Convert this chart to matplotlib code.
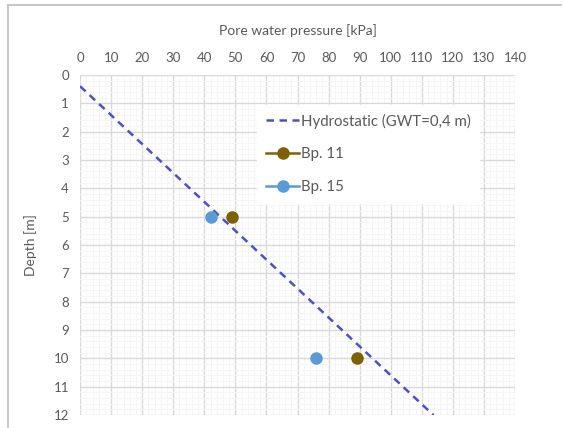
import matplotlib
matplotlib.use("Agg")
import matplotlib.pyplot as plt
from matplotlib.lines import Line2D
from matplotlib.ticker import MultipleLocator

# data
gwt = 0.4
gamma_w = 9.81
hydro_depth = [gwt, 12.0]
bp11_u = [49, 89]
bp11_z = [5, 10]
bp15_u = [42, 76]
bp15_z = [5, 10]

plt.rcParams['font.family'] = ['Lato', 'DejaVu Sans']
txt = '#595959'

fig = plt.figure(figsize=(5.64, 4.28), dpi=100)
ax = fig.add_axes([0.142, 0.030, 0.771, 0.795])

hydro_u = [(z - gwt) * gamma_w for z in hydro_depth]
ax.plot(hydro_u, hydro_depth, color='#4F4FC4', ls=(0, (3, 2.2)), lw=1.8, zorder=3)
ax.plot(bp11_u, bp11_z, ls='none', marker='o', ms=8, color='#7F6000', zorder=4)
ax.plot(bp15_u, bp15_z, ls='none', marker='o', ms=8, color='#5B9BD5', zorder=4)

ax.set_xlim(0, 140)
ax.set_ylim(12, 0)
ax.xaxis.tick_top()
ax.xaxis.set_label_position('top')
ax.xaxis.set_major_locator(MultipleLocator(10))
ax.yaxis.set_major_locator(MultipleLocator(1))
ax.xaxis.set_minor_locator(MultipleLocator(2))
ax.yaxis.set_minor_locator(MultipleLocator(0.2))
ax.grid(which='major', color='#d9d9d9', lw=1.0)
ax.grid(which='minor', color='#f5f5f5', lw=0.7)
ax.set_axisbelow(True)
for s in ax.spines.values():
    s.set_visible(False)
ax.tick_params(which='both', length=0, labelsize=9.5, colors=txt, pad=8)
ax.set_xlabel('Pore water pressure [kPa]', fontsize=10, color=txt, labelpad=12)
ax.set_ylabel('Depth [m]', fontsize=10, color=txt, labelpad=12)

handles = [
    Line2D([], [], color='#4F4FC4', ls=(0, (3, 2.2)), lw=1.8),
    Line2D([], [], color='#7F6000', marker='o', ms=8, lw=1.8),
    Line2D([], [], color='#5B9BD5', marker='o', ms=8, lw=1.8),
]
labels = ['Hydrostatic (GWT=0,4 m)', 'Bp. 11', 'Bp. 15']
leg = ax.legend(handles, labels, loc='upper left', bbox_to_anchor=(0.39, 0.935),
                frameon=True, fancybox=False, edgecolor='white', facecolor='white',
                framealpha=1, fontsize=10.8, labelspacing=1.25, handlelength=2.2,
                handletextpad=0.1, borderpad=0.6)
for t in leg.get_texts():
    t.set_color(txt)

# outer chart frame (left and top edges visible in the crop)
fig.add_artist(Line2D([0.015, 0.015], [0, 0.988], color='#c8c8c8', lw=1.5))
fig.add_artist(Line2D([0.015, 0.995], [0.988, 0.988], color='#c8c8c8', lw=1.5))

fig.savefig('out.png', dpi=100)
